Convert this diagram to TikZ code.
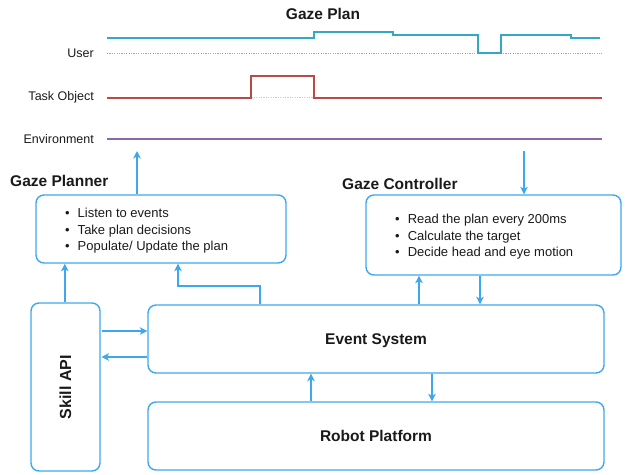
\documentclass[tikz,border=0pt]{standalone}
\usepackage{fontspec}
\setmainfont{Liberation Sans}
\usetikzlibrary{arrows.meta,calc}
\definecolor{boxblue}{HTML}{3DA8F0}
\definecolor{usercol}{HTML}{35A9C2}
\definecolor{taskcol}{HTML}{BA4A46}
\definecolor{envcol}{HTML}{8E66AA}
\definecolor{txt}{HTML}{1A1A1A}
\begin{document}
\begin{tikzpicture}[x=1pt,y=-1pt,
  box/.style={draw=boxblue, line width=1.4pt, rounded corners=8pt, inner sep=0pt},
  arr/.style={draw=boxblue, line width=1.4pt, -{Stealth[length=7.5pt,width=7.5pt,inset=2pt]}},
  title/.style={font=\fontsize{15.5}{18}\selectfont\bfseries, text=txt, inner sep=0pt},
  lbl/.style={font=\fontsize{12.5}{15}\selectfont, text=txt, inner sep=0pt, anchor=east},
  list/.style={font=\fontsize{13}{16.5}\selectfont, text=txt, align=left, inner sep=0pt, anchor=west},
  big/.style={font=\fontsize{15.5}{18}\selectfont\bfseries, text=txt, text depth=0pt, text height=11pt},
  tl/.style={line width=1.7pt}
]
\useasboundingbox (0,0) rectangle (631,474);

% ---- Gaze plan chart ----
\node[title] (plantitle) at (323,14) {Gaze Plan};
\node[lbl] (luser) at (94,53.3) {User};
\node[lbl] (ltask) at (94,97.7) {Task Object};
\node[lbl] (lenv) at (94,139.3) {Environment};

\draw[gray!70, line width=0.6pt, dash pattern=on 1.2pt off 1.2pt] (107,53.3) -- (602,53.3);
\draw[gray!40, line width=0.6pt, dash pattern=on 1.2pt off 1.2pt] (251.3,97.7) -- (313.8,97.7);
\draw[tl, draw=usercol] (107,37.7) -- (313.8,37.7) -- (313.8,32.3) -- (392.8,32.3) -- (392.8,34.7)
  -- (478,34.7) -- (478,53.3) -- (501,53.3) -- (501,34.7) -- (571,34.7) -- (571,37.7) -- (600,37.7);
\draw[tl, draw=taskcol] (107,97.7) -- (251.3,97.7) -- (251.3,76) -- (313.8,76) -- (313.8,97.7) -- (602,97.7);
\draw[tl, draw=envcol] (107,139.3) -- (602,139.3);

% ---- boxes ----
\node[title, anchor=west] (plannerlbl) at (10,181) {Gaze Planner};
\node[box, minimum width=250pt, minimum height=68pt] (planner) at (161,229) {};
\node[list] (plannerlist) at (65,231) {\textbullet\hspace{8pt}Listen to events\\ \textbullet\hspace{8pt}Take plan decisions\\ \textbullet\hspace{8pt}Populate/ Update the plan};

\node[title, anchor=west] (ctrllbl) at (342,184) {Gaze Controller};
\node[box, minimum width=255pt, minimum height=80pt] (controller) at (493.5,235) {};
\node[list] (ctrllist) at (395,237) {\textbullet\hspace{8pt}Read the plan every 200ms\\ \textbullet\hspace{8pt}Calculate the target\\ \textbullet\hspace{8pt}Decide head and eye motion};

\node[box, big, minimum width=456pt, minimum height=68pt] (event) at (376,339) {Event System};
\node[box, big, minimum width=456pt, minimum height=68pt] (robot) at (376,436) {Robot Platform};
\node[box, minimum width=69pt, minimum height=168pt] (skill) at (65.5,387) {};
\node[title, rotate=90, font=\fontsize{16}{18}\selectfont\bfseries] (skilltxt) at (skill.center) {Skill API};

% ---- connectors ----
\coordinate (planTip) at (137,151);
\coordinate (ctrlStart) at (524,151);
\draw[arr] (planner.north -| planTip) -- (planTip);
\draw[arr] (ctrlStart) -- (controller.north -| ctrlStart);

\coordinate (skillUp) at (64.8,0);
\draw[arr] (skill.north -| skillUp) -- (planner.south -| skillUp);
\coordinate (kneeA) at (260,286);
\coordinate (kneeB) at (178,286);
\draw[arr] (event.north -| kneeA) -- (kneeA) -- (kneeB) -- (planner.south -| kneeB);

\coordinate (upC) at (419,0);
\coordinate (downC) at (480,0);
\draw[arr] (event.north -| upC) -- (controller.south -| upC);
\draw[arr] (controller.south -| downC) -- (event.north -| downC);

\coordinate (rowA) at (0,331);
\coordinate (rowB) at (0,357);
\coordinate (skillGap) at (101.5,0);
\draw[arr] (skillGap |- rowA) -- (event.west |- rowA);
\draw[arr] (event.west |- rowB) -- (skillGap |- rowB);

\coordinate (upR) at (311,0);
\coordinate (downR) at (432,0);
\draw[arr] (robot.north -| upR) -- (event.south -| upR);
\draw[arr] (event.south -| downR) -- (robot.north -| downR);
\end{tikzpicture}
\end{document}
